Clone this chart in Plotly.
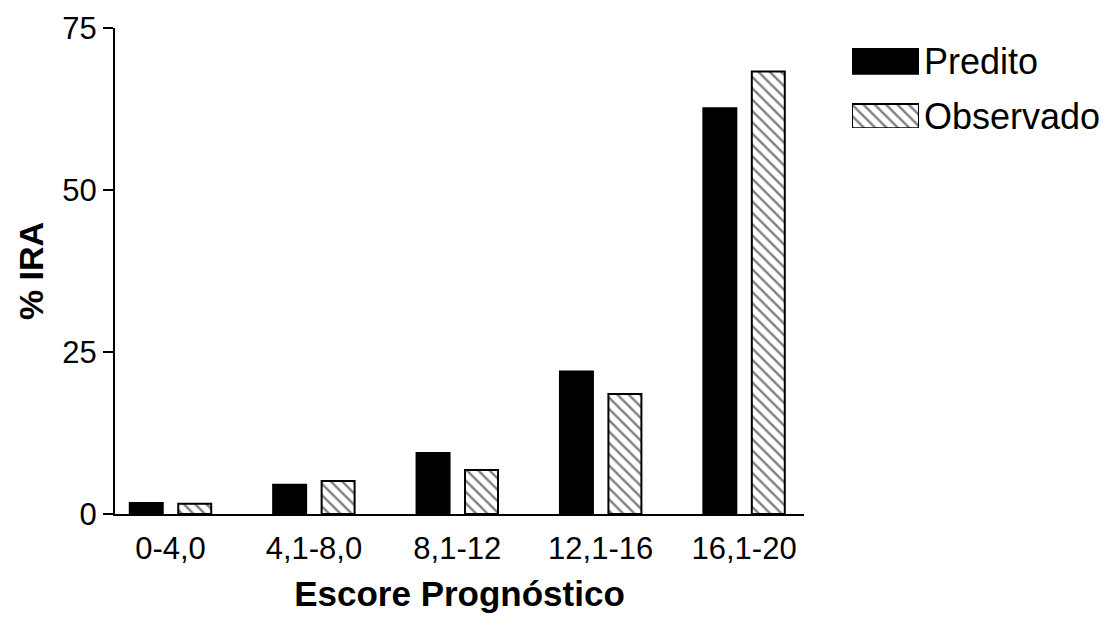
import plotly.graph_objects as go

categories = ["0-4,0", "4,1-8,0", "8,1-12", "12,1-16", "16,1-20"]
predito = [1.7, 4.5, 9.4, 22.0, 62.6]
observado = [1.6, 5.1, 6.8, 18.5, 68.3]
series_names = ["Predito", "Observado"]
y_ticks = [0, 25, 50, 75]

FONT = "Liberation Sans, Arial, sans-serif"
hatch = dict(shape="\\", fgcolor="black", bgcolor="white", size=8, solidity=0.3)

x_idx = list(range(len(categories)))

fig = go.Figure()
fig.add_trace(go.Bar(
    x=x_idx, y=predito, name=series_names[0],
    width=0.23, offset=-0.284,
    marker=dict(color="black", line=dict(color="black", width=2)),
    showlegend=False,
))
fig.add_trace(go.Bar(
    x=x_idx, y=observado, name=series_names[1],
    width=0.23, offset=0.054,
    marker=dict(color="white", pattern=hatch, line=dict(color="black", width=2)),
    showlegend=False,
))

# legend drawn as a small bar panel (swatches) with its labels as axis tick labels
fig.add_trace(go.Bar(
    x=[1], y=[1], orientation="h", width=0.46, xaxis="x2", yaxis="y2",
    marker=dict(color="black", line=dict(color="black", width=2)),
    showlegend=False, hoverinfo="skip",
))
fig.add_trace(go.Bar(
    x=[1], y=[0], orientation="h", width=0.44, xaxis="x2", yaxis="y2",
    marker=dict(color="white", pattern=hatch, line=dict(color="black", width=2)),
    showlegend=False, hoverinfo="skip",
))

fig.update_layout(
    width=1110, height=619,
    margin=dict(l=115, r=10, t=28, b=105),
    paper_bgcolor="white", plot_bgcolor="white",
    font=dict(family=FONT, color="black", size=31),
    barmode="overlay",
    xaxis=dict(
        domain=[0, 0.6995],
        range=[-0.387, 4.418],
        tickmode="array", tickvals=x_idx, ticktext=categories,
        showline=True, linecolor="black", linewidth=2,
        ticks="", showgrid=False, zeroline=False,
        ticklabelstandoff=6,
        tickfont=dict(size=31),
        automargin=False,
        title=dict(text="<b>Escore Prognóstico</b>", font=dict(size=35), standoff=16),
    ),
    yaxis=dict(
        range=[0, 75],
        tickvals=y_ticks,
        showline=True, linecolor="black", linewidth=2,
        ticks="outside", ticklen=10, tickwidth=2, tickcolor="black",
        showgrid=False, zeroline=False,
        tickfont=dict(size=31),
        automargin=False,
        title=dict(text="<b>% IRA</b>", font=dict(size=34), standoff=8),
    ),
    xaxis2=dict(
        domain=[0.7482, 0.8162], range=[0, 1], anchor="y2",
        visible=False, fixedrange=True, automargin=False,
    ),
    yaxis2=dict(
        domain=[0.794, 0.959], range=[-0.218, 1.236], anchor="x2",
        side="right", tickvals=[1, 0], ticktext=series_names,
        showline=False, ticks="", showgrid=False, zeroline=False,
        tickfont=dict(size=36), ticklabelstandoff=4, fixedrange=True,
        automargin=False,
    ),
)

fig.write_html("out.html", config={"displayModeBar": False})

# remove the browser's default page margin so the figure sits at the window's corner
with open("out.html", "r", encoding="utf-8") as f:
    html = f.read()
html = html.replace("<head>", "<head><style>html,body{margin:0;padding:0;overflow:hidden;}</style>", 1)
with open("out.html", "w", encoding="utf-8") as f:
    f.write(html)
